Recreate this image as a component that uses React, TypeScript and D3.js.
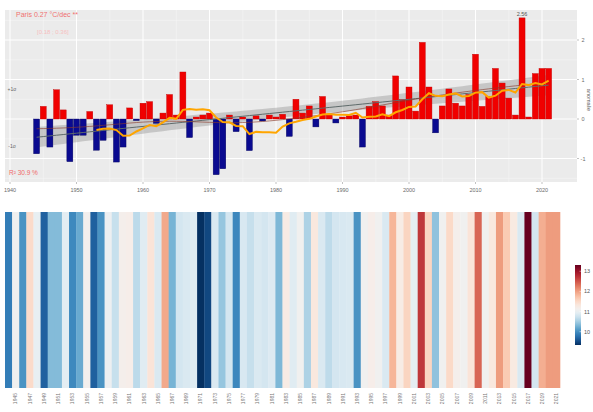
import React from "react";
import * as d3 from "d3";

const years: number[] = d3.range(1944, 2022);
const anomalies: number[] = [
  -0.88, 0.32, -0.71, 0.74, 0.23, -1.08, -0.41, -0.41, 0.19, -0.79,
  -0.54, 0.36, -1.09, -0.71, 0.28, -0.04, 0.40, 0.44, -0.11, 0.15,
  0.62, 0.10, 1.19, -0.47, 0.05, 0.10, 0.15, -1.41, -1.26, 0.10,
  -0.32, 0.05, -0.80, 0.08, -0.05, 0.10, 0.05, 0.12, -0.44, 0.50,
  0.15, 0.33, -0.20, 0.57, 0.10, -0.10, 0.05, 0.08, 0.10, -0.71,
  0.32, 0.44, 0.33, 0.10, 1.09, 0.49, 0.81, 0.20, 1.94, 0.81,
  -0.35, 0.33, 0.76, 0.40, 0.33, 0.62, 1.64, 0.32, 0.57, 1.28,
  0.91, 0.53, 0.10, 2.56, 0.05, 1.15, 1.28, 1.28,
];
const baseTemp = 10.75;
const colorMidAnomaly = 0.35;
const xTicks: number[] = [1940, 1950, 1960, 1970, 1980, 1990, 2000, 2010, 2020];
const yTicks: number[] = [-1, 0, 1, 2];
const colorbarTicks: number[] = [10, 11, 12, 13];
const titleText = "Paris 0.27 °C/dec **";
const subText = "[0.18 ; 0.36]";
const r2Text = "R² 30.9 %";

export default function App() {
  const W = 593, H = 412;
  const panel = { l: 5, r: 577, t: 10, b: 182 };
  const x = d3.scaleLinear().domain([1940, 2020]).range([10, 542]);
  const y = d3.scaleLinear().domain([-1, 2]).range([158.5, 40]);
  const bw = (x(1941) - x(1940)) * 0.9;

  // 10-year trailing mean
  const ma = years
    .map((yr, i) => (i >= 9 ? { yr, v: d3.mean(anomalies.slice(i - 9, i + 1)) as number } : null))
    .filter(Boolean) as { yr: number; v: number }[];

  // linear regression with confidence band
  const n = years.length;
  const mx = d3.mean(years) as number;
  const my = d3.mean(anomalies) as number;
  const sxx = d3.sum(years, (t) => (t - mx) ** 2);
  const sxy = d3.sum(years, (t, i) => (t - mx) * (anomalies[i] - my));
  const slope = sxy / sxx;
  const icpt = my - slope * mx;
  const resid = years.map((t, i) => anomalies[i] - (icpt + slope * t));
  const s = Math.sqrt(d3.sum(resid, (r) => r * r) / (n - 2));
  const band = years.map((t) => {
    const f = icpt + slope * t;
    const se = s * Math.sqrt(1 / n + (t - mx) ** 2 / sxx) * 1.99;
    return { t, lo: f - se, hi: f + se, f };
  });
  // kernel smoother
  const smooth = years.map((t) => {
    const w = years.map((u) => Math.exp(-0.5 * ((u - t) / 8) ** 2));
    return { t, v: d3.sum(w, (wi, i) => wi * anomalies[i]) / d3.sum(w) };
  });

  const line = d3.line<{ yr: number; v: number }>().x((d) => x(d.yr)).y((d) => y(d.v));
  const area = d3
    .area<{ t: number; lo: number; hi: number }>()
    .x((d) => x(d.t))
    .y0((d) => y(d.lo))
    .y1((d) => y(d.hi));

  // heatmap
  const temps = anomalies.map((a) => a + baseTemp);
  const tMin = d3.min(temps) as number;
  const tMax = d3.max(temps) as number;
  const hx = d3.scaleBand<number>().domain(years).range([5, 560]).padding(0);
  const color = d3
    .scaleDiverging((t: number) => d3.interpolateRdBu(1 - t))
    .domain([tMin, baseTemp + colorMidAnomaly, tMax]);
  const cb = { x: 575, w: 6, t: 265, b: 345 };
  const cy = d3.scaleLinear().domain([tMin, tMax]).range([cb.b, cb.t]);
  const stops = d3.range(0, 1.0001, 0.05);

  const minorX = d3.range(1945, 2025, 10);
  const minorY = [-1.5, -0.5, 0.5, 1.5, 2.5];

  return (
    <svg width={W} height={H} style={{ position: "absolute", left: 0, top: 0, fontFamily: "Liberation Sans, Arial, sans-serif" }}>
      <rect x={0} y={0} width={W} height={H} fill="#ffffff" />
      <rect x={panel.l} y={panel.t} width={panel.r - panel.l} height={panel.b - panel.t} fill="#ebebeb" />
      {minorX.map((t) => (
        <line key={"mx" + t} x1={x(t)} x2={x(t)} y1={panel.t} y2={panel.b} stroke="#f5f5f5" strokeWidth={0.6} />
      ))}
      {minorY.map((v) => (
        <line key={"my" + v} x1={panel.l} x2={panel.r} y1={y(v)} y2={y(v)} stroke="#f5f5f5" strokeWidth={0.6} />
      ))}
      {xTicks.map((t) => (
        <line key={"gx" + t} x1={x(t)} x2={x(t)} y1={panel.t} y2={panel.b} stroke="#ffffff" strokeWidth={1} />
      ))}
      {yTicks.map((v) => (
        <line key={"gy" + v} x1={panel.l} x2={panel.r} y1={y(v)} y2={y(v)} stroke="#ffffff" strokeWidth={1} />
      ))}
      <path d={area(band) || ""} fill="#9a9a9a" opacity={0.45} />
      {years.map((yr, i) => {
        const v = anomalies[i];
        return (
          <rect
            key={"b" + yr}
            x={x(yr) - bw / 2}
            y={v >= 0 ? y(v) : y(0)}
            width={bw}
            height={Math.abs(y(v) - y(0))}
            fill={v >= 0 ? "#f00000" : "#0a0a90"}
            stroke={v >= 0 ? "#c00000" : "#05055a"}
            strokeWidth={0.4}
          />
        );
      })}
      <path d={line(band.map((d) => ({ yr: d.t, v: d.f }))) || ""} fill="none" stroke="#5f6b6b" strokeWidth={1} />
      <path d={line(smooth.map((d) => ({ yr: d.t, v: d.v }))) || ""} fill="none" stroke="#8b3a2a" strokeWidth={0.8} opacity={0.8} />
      <path d={line(ma) || ""} fill="none" stroke="#ffa500" strokeWidth={2} />
      {xTicks.map((t) => (
        <g key={"xt" + t}>
          <line x1={x(t)} x2={x(t)} y1={panel.b} y2={panel.b + 2} stroke="#999" strokeWidth={0.6} />
          <text x={x(t)} y={panel.b + 10} fontSize={5.5} fill="#6b6b6b" textAnchor="middle">{t}</text>
        </g>
      ))}
      {yTicks.map((v) => (
        <g key={"yt" + v}>
          <line x1={panel.r} x2={panel.r + 2} y1={y(v)} y2={y(v)} stroke="#999" strokeWidth={0.6} />
          <text x={panel.r + 6} y={y(v) + 2} fontSize={5.5} fill="#6b6b6b" textAnchor="middle">{v}</text>
        </g>
      ))}
      <text transform={`translate(587,100) rotate(90)`} fontSize={5.5} fill="#555" textAnchor="middle">anomalie</text>
      <text x={12} y={91} fontSize={5} fill="#666" textAnchor="middle">+1σ</text>
      <text x={12} y={148} fontSize={5} fill="#666" textAnchor="middle">-1σ</text>
      <text x={16} y={17} fontSize={7} fill="#f07070">{titleText}</text>
      <text x={37} y={34} fontSize={6} fill="#f7c0c0">{subText}</text>
      <text x={9} y={175} fontSize={6.5} fill="#f06a6a">{r2Text}</text>
      {(() => {
        const i = anomalies.indexOf(d3.max(anomalies) as number);
        return (
          <text x={x(years[i])} y={y(anomalies[i]) - 2} fontSize={5.5} fill="#555" textAnchor="middle">
            {anomalies[i].toFixed(2)}
          </text>
        );
      })()}

      {years.map((yr, i) => (
        <rect key={"h" + yr} x={hx(yr)} y={212} width={hx.bandwidth() + 0.3} height={176} fill={color(temps[i])} />
      ))}
      {years.map((yr, i) =>
        i % 2 === 1 ? (
          <text
            key={"hl" + yr}
            transform={`translate(${(hx(yr) as number) + hx.bandwidth() / 2 + 1.8},393) rotate(-90)`}
            fontSize={5}
            fill="#777"
            textAnchor="end"
          >
            {yr}
          </text>
        ) : null
      )}
      <defs>
        <linearGradient id="cbg" x1="0" y1="1" x2="0" y2="0">
          {stops.map((s2) => (
            <stop key={s2} offset={s2} stopColor={color(tMin + s2 * (tMax - tMin))} />
          ))}
        </linearGradient>
      </defs>
      <rect x={cb.x} y={cb.t} width={cb.w} height={cb.b - cb.t} fill="url(#cbg)" />
      {colorbarTicks.map((v) => (
        <g key={"cb" + v}>
          <line x1={cb.x + cb.w - 1.5} x2={cb.x + cb.w} y1={cy(v)} y2={cy(v)} stroke="#fff" strokeWidth={0.5} />
          <text x={cb.x + cb.w + 3} y={cy(v) + 2} fontSize={5.5} fill="#555">{v}</text>
        </g>
      ))}
    </svg>
  );
}
